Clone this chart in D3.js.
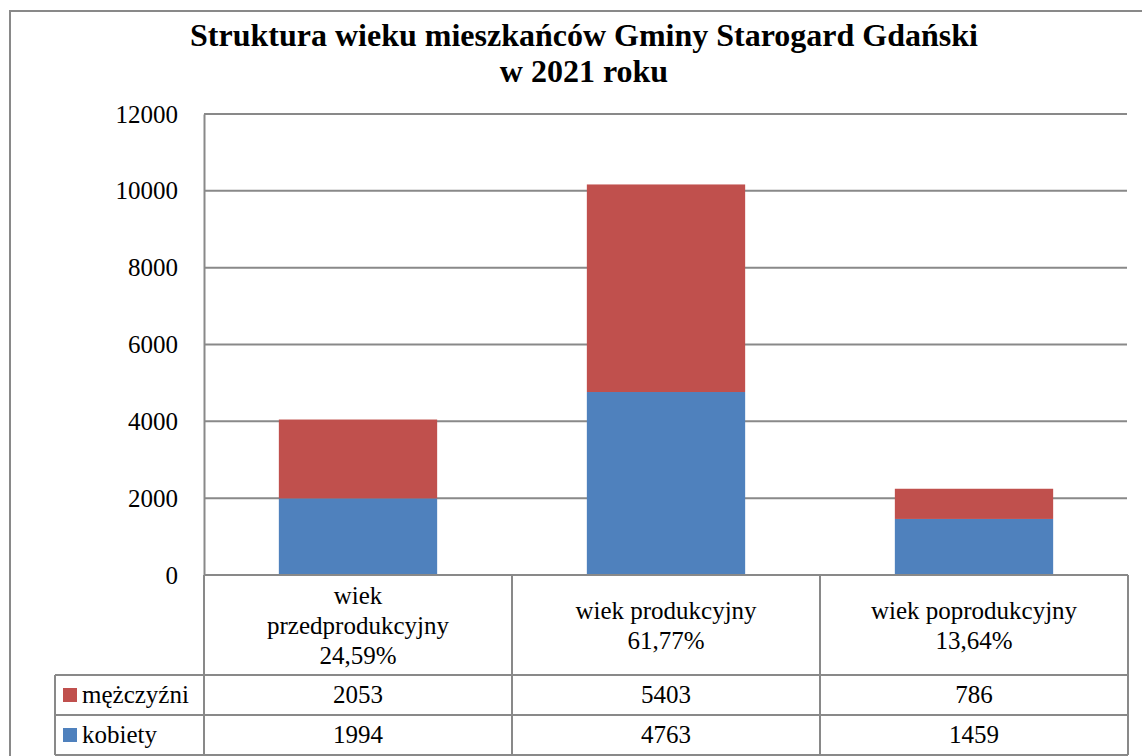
<!DOCTYPE html>
<html>
<head>
<meta charset="utf-8">
<script src="https://cdn.jsdelivr.net/npm/d3@7"></script>
</head>
<body style="margin:0;background:#fff">
<div id="chart"></div>
<script>
let width = 1142;
let height = 756;
let margin = ({top: 114, right: 15, bottom: 181, left: 204});
let fontFamily = "Liberation Serif";

// chart data
let categories = ["wiek przedprodukcyjny", "wiek produkcyjny", "wiek poprodukcyjny"];
let categoryLines = [["wiek", "przedprodukcyjny", "24,59%"], ["wiek produkcyjny", "61,77%"], ["wiek poprodukcyjny", "13,64%"]];
let seriesNames = ["kobiety", "mężczyźni"];
let kobiety = [1994, 4763, 1459];
let mezczyzni = [2053, 5403, 786];
let yTicks = [0, 2000, 4000, 6000, 8000, 10000, 12000];

let colors = d3.scaleOrdinal()
    .domain(seriesNames)
    .range(["#4F81BD", "#C0504D"]);

let rows = categories.map((c, i) => ({cat: c, "kobiety": kobiety[i], "mężczyźni": mezczyzni[i]}));
let stacked = d3.stack().keys(seriesNames)(rows);

let svg = d3.select("#chart").append("svg")
    .attr("width", width)
    .attr("height", height)
    .attr("font-family", fontFamily)
    .style("display", "block");

let gridColor = "#898989";

// outer chart border
svg.append("rect")
    .attr("x", 10).attr("y", 11)
    .attr("width", width + 20).attr("height", height + 20)
    .attr("fill", "none")
    .attr("stroke", gridColor)
    .attr("stroke-width", 2);

// title
let title = svg.append("text")
    .attr("text-anchor", "middle")
    .attr("font-family", fontFamily)
    .attr("font-weight", "bold")
    .attr("font-size", 32);
title.append("tspan").attr("x", 584).attr("y", 46).text("Struktura wieku mieszkańców Gminy Starogard Gdański");
title.append("tspan").attr("x", 584).attr("y", 82).text("w 2021 roku");

let plotRight = width - margin.right;
let plotBottom = height - margin.bottom;

let xScale = d3.scaleBand()
    .domain(categories)
    .range([margin.left, plotRight + 1])
    .paddingInner(0.486)
    .paddingOuter(0.243);

let yScale = d3.scaleLinear()
    .domain([0, 12000])
    .range([plotBottom, margin.top]);

// gridlines
svg.append("g")
    .selectAll("line")
    .data(yTicks)
    .join("line")
    .attr("x1", margin.left)
    .attr("x2", plotRight)
    .attr("y1", d => yScale(d))
    .attr("y2", d => yScale(d))
    .attr("stroke", gridColor)
    .attr("stroke-width", 2);

// y axis
let yAxis = d3.axisLeft(yScale)
    .tickValues(yTicks)
    .tickSize(0)
    .tickPadding(26)
    .tickFormat(d3.format("d"));

let yG = svg.append("g")
    .attr("transform", "translate(" + margin.left + ",0)")
    .call(yAxis)
    .attr("font-family", fontFamily)
    .attr("font-size", 25);
yG.select(".domain").attr("stroke", gridColor).attr("stroke-width", 2);
yG.selectAll("text").attr("fill", "#000");

// bars
svg.append("g")
    .selectAll("g")
    .data(stacked)
    .join("g")
    .attr("fill", d => colors(d.key))
    .selectAll("rect")
    .data(d => d)
    .join("rect")
    .attr("x", d => xScale(d.data.cat))
    .attr("width", xScale.bandwidth())
    .attr("y", d => yScale(d[1]))
    .attr("height", d => yScale(d[0]) - yScale(d[1]));

// data table
let rowH = 40;
let catRowBottom = 675;
let tableLeft = 55;
let tableBottom = catRowBottom + rowH * 2;
let step = xScale.step();
let colEdges = categories.map((c, i) => margin.left + i * step).concat([plotRight + 1]);

let table = svg.append("g")
    .attr("stroke", gridColor)
    .attr("stroke-width", 2);

// horizontal lines
table.append("line").attr("x1", margin.left).attr("x2", plotRight + 1).attr("y1", plotBottom).attr("y2", plotBottom);
[catRowBottom, catRowBottom + rowH, tableBottom].forEach(y => {
    table.append("line").attr("x1", tableLeft).attr("x2", plotRight + 1).attr("y1", y).attr("y2", y);
});
// vertical lines
colEdges.forEach(x => {
    table.append("line").attr("x1", x).attr("x2", x).attr("y1", plotBottom).attr("y2", tableBottom);
});
table.append("line").attr("x1", tableLeft).attr("x2", tableLeft).attr("y1", catRowBottom).attr("y2", tableBottom);

// category labels
categories.forEach((c, i) => {
    let lines = categoryLines[i];
    let cx = xScale(c) + xScale.bandwidth() / 2;
    let centerY = (plotBottom + catRowBottom) / 2 + 1;
    let t = svg.append("text")
        .attr("text-anchor", "middle")
        .attr("font-family", fontFamily)
        .attr("font-size", 25);
    lines.forEach((l, j) => {
        t.append("tspan")
            .attr("x", cx)
            .attr("y", centerY + (j - (lines.length - 1) / 2) * 30 + 8)
            .text(l);
    });
});

// series rows
let tableRows = [
    {name: "mężczyźni", values: mezczyzni},
    {name: "kobiety", values: kobiety}
];
tableRows.forEach((r, ri) => {
    let cy = catRowBottom + ri * rowH + rowH / 2;
    svg.append("rect")
        .attr("x", 63).attr("y", cy - 7)
        .attr("width", 14).attr("height", 14)
        .attr("fill", colors(r.name));
    svg.append("text")
        .attr("x", 82).attr("y", cy + 8)
        .attr("font-family", fontFamily)
        .attr("font-size", 25)
        .text(r.name);
    r.values.forEach((v, i) => {
        svg.append("text")
            .attr("x", xScale(categories[i]) + xScale.bandwidth() / 2)
            .attr("y", cy + 8)
            .attr("text-anchor", "middle")
            .attr("font-family", fontFamily)
            .attr("font-size", 25)
            .text(v);
    });
});
</script>
</body>
</html>
